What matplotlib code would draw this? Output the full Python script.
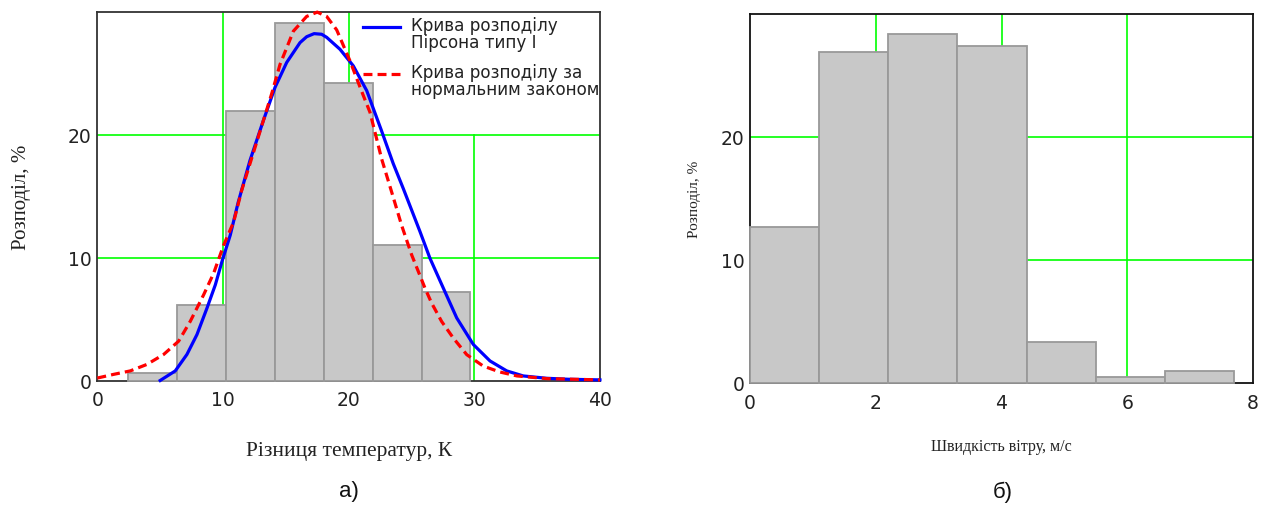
import matplotlib
matplotlib.use("Agg")
import matplotlib.pyplot as plt
from matplotlib.lines import Line2D
from matplotlib.legend_handler import HandlerLine2D

# --- temperature difference histogram (bin edges, K; share, %) ---
temp_edges = [2.44, 6.33, 10.24, 14.14, 18.02, 21.92, 25.80, 29.68]
temp_share = [0.6, 6.1, 21.95, 29.1, 24.2, 11.05, 7.2]

# Pearson type I fitted curve
pearson_x = [5.0, 6.2, 7.13, 7.93, 8.73, 9.39, 9.92, 10.58, 11.2, 12.15, 13.21,
             14.14, 15.07, 16.13, 16.66, 17.25, 17.85, 18.25, 19.31, 20.37, 21.44,
             22.6, 23.55, 24.35, 25.68, 26.47, 27.53, 28.6, 29.92, 31.25, 32.58,
             33.9, 35.76, 37.5, 40.0]
pearson_y = [0.0, 0.78, 2.12, 3.74, 5.9, 7.78, 9.68, 11.83, 14.45, 17.9, 21.13,
             23.83, 25.86, 27.47, 27.95, 28.2, 28.15, 27.9, 26.93, 25.58, 23.56,
             20.35, 17.63, 15.6, 12.1, 9.94, 7.52, 5.09, 2.93, 1.59, 0.78,
             0.37, 0.18, 0.1, 0.05]

# normal-law fitted curve
normal_x = [0.0, 1.3, 2.62, 3.95, 5.28, 6.47, 7.4, 8.46, 9.26, 10.05, 10.85,
            11.49, 12.81, 13.87, 14.54, 15.6, 16.66, 17.5, 18.25, 19.05, 20.1,
            21.0, 21.7, 22.63, 23.43, 24.22, 25.02, 26.08, 26.6, 27.4, 28.33,
            29.4, 30.7, 32.0, 33.4, 35.8, 40.0]
normal_y = [0.2, 0.5, 0.78, 1.31, 2.12, 3.2, 4.82, 6.97, 8.73, 11.0, 12.9,
            15.47, 19.8, 23.3, 25.7, 28.4, 29.6, 29.95, 29.6, 28.5, 26.0,
            23.6, 21.8, 18.0, 15.3, 12.6, 10.2, 7.5, 6.3, 4.8, 3.45,
            2.1, 1.18, 0.7, 0.37, 0.15, 0.05]

# --- wind speed histogram (bin edges, m/s; share, %) ---
wind_edges = [0.0, 1.10, 2.20, 3.30, 4.40, 5.50, 6.60, 7.70]
wind_share = [12.7, 26.95, 28.37, 27.38, 3.32, 0.48, 0.98]

temp_xticks = [0, 10, 20, 30, 40]
wind_xticks = [0, 2, 4, 6, 8]
share_yticks = [0, 10, 20]

label_pearson = "Крива розподілу\nПірсона типу І"
label_normal = "Крива розподілу за\nнормальним законом"

GRID = "#00ff00"
BAR_FACE = "#c8c8c8"
BAR_EDGE = "#999999"
SPINE = "#333333"
TICK_FONT = "DejaVu Sans"
SERIF = "Liberation Serif"

fig = plt.figure(figsize=(12.74, 5.06), dpi=100)
W, H = 1274.0, 506.0
ax1 = fig.add_axes([97.35 / W, 1 - 381.5 / H, 502.6 / W, 369.0 / H])
ax2 = fig.add_axes([750.0 / W, 1 - 384.0 / H, 503.0 / W, 369.0 / H])


def draw_hist(ax, edges, share):
    lefts = edges[:-1]
    widths = [b - a for a, b in zip(edges[:-1], edges[1:])]
    bars = ax.bar(lefts, share, width=widths, align="edge", color=BAR_FACE,
                  edgecolor=BAR_EDGE, linewidth=1.3, zorder=3)
    for b in bars:
        b.set_clip_on(False)


def style_axes(ax, xlim, xticks, vgrid, hgrid, vgrid_top=None):
    ax.set_xlim(*xlim)
    ax.set_ylim(0, 30)
    ax.set_xticks(xticks)
    ax.set_yticks(share_yticks)
    ax.tick_params(length=0, labelsize=13.5, pad=7)
    ax.tick_params(axis="y", pad=4)
    for lab in ax.get_xticklabels() + ax.get_yticklabels():
        lab.set_fontfamily(TICK_FONT)
        lab.set_color("#222222")
    for sp in ax.spines.values():
        sp.set_color(SPINE)
        sp.set_linewidth(1.3)
        sp.set_zorder(2.5)
    for v in vgrid:
        top = 1.0 if vgrid_top is None or v not in vgrid_top else vgrid_top[v]
        ax.axvline(v, ymin=0, ymax=top, color=GRID, lw=1.2, zorder=0.5)
    for h in hgrid:
        ax.axhline(h, color=GRID, lw=1.2, zorder=0.5)


# left panel: temperature difference
draw_hist(ax1, temp_edges, temp_share)
ax1.plot(pearson_x, pearson_y, color="#0000ff", lw=2.3, zorder=5,
         clip_on=False, label=label_pearson)
ax1.plot(normal_x, normal_y, color="#ff0000", lw=2.3, zorder=5, clip_on=False,
         linestyle=(0, (2.8, 1.6)), dash_capstyle="butt", label=label_normal)
style_axes(ax1, (0, 40), temp_xticks, [10, 20, 30], [10, 20],
           vgrid_top={30: 20 / 30})
ax1.set_xlabel("Різниця температур, К", family=SERIF, fontsize=15.5,
               labelpad=23, color="#222222")
ax1.set_ylabel("Розподіл, %", family=SERIF, fontsize=15, labelpad=27,
               color="#222222")


class FirstLineHandler(HandlerLine2D):
    """Place the legend line next to the first line of a two-line label."""

    def create_artists(self, legend, orig_handle, xdescent, ydescent, width,
                       height, fontsize, trans):
        artists = super().create_artists(legend, orig_handle, xdescent,
                                         ydescent, width, height, fontsize,
                                         trans)
        for a in artists:
            if isinstance(a, Line2D):
                a.set_ydata([y + 0.46 * fontsize for y in a.get_ydata()])
        return artists


leg = ax1.legend(loc="upper right", bbox_to_anchor=(1.008, 1.0),
                 borderaxespad=0.0, borderpad=0.25, frameon=False,
                 prop={"family": TICK_FONT, "size": 12.1},
                 handlelength=2.15, handletextpad=0.7, labelspacing=0.67,
                 handler_map={Line2D: FirstLineHandler()})
for t in leg.get_texts():
    t.set_linespacing(0.97)
    t.set_color("#222222")
leg.set_zorder(6)

# right panel: wind speed
draw_hist(ax2, wind_edges, wind_share)
style_axes(ax2, (0, 8), wind_xticks, [2, 4, 6], [10, 20])
ax2.set_xlabel("Швидкість вітру, м/с", family=SERIF, fontsize=11.5,
               labelpad=19, color="#222222")
ax2.set_ylabel("Розподіл, %", family=SERIF, fontsize=11, labelpad=14,
               color="#222222")
for sp in ax2.spines.values():
    sp.set_color("#111111")

# panel captions
fig.text(349 / W, 1 - 492 / H, "а)", family="Liberation Sans", fontsize=16,
         ha="center", va="center", color="#111111")
fig.text(1003 / W, 1 - 492 / H, "б)", family="Liberation Sans", fontsize=16,
         ha="center", va="center", color="#111111")

fig.savefig("out.png", dpi=100, facecolor="white")
